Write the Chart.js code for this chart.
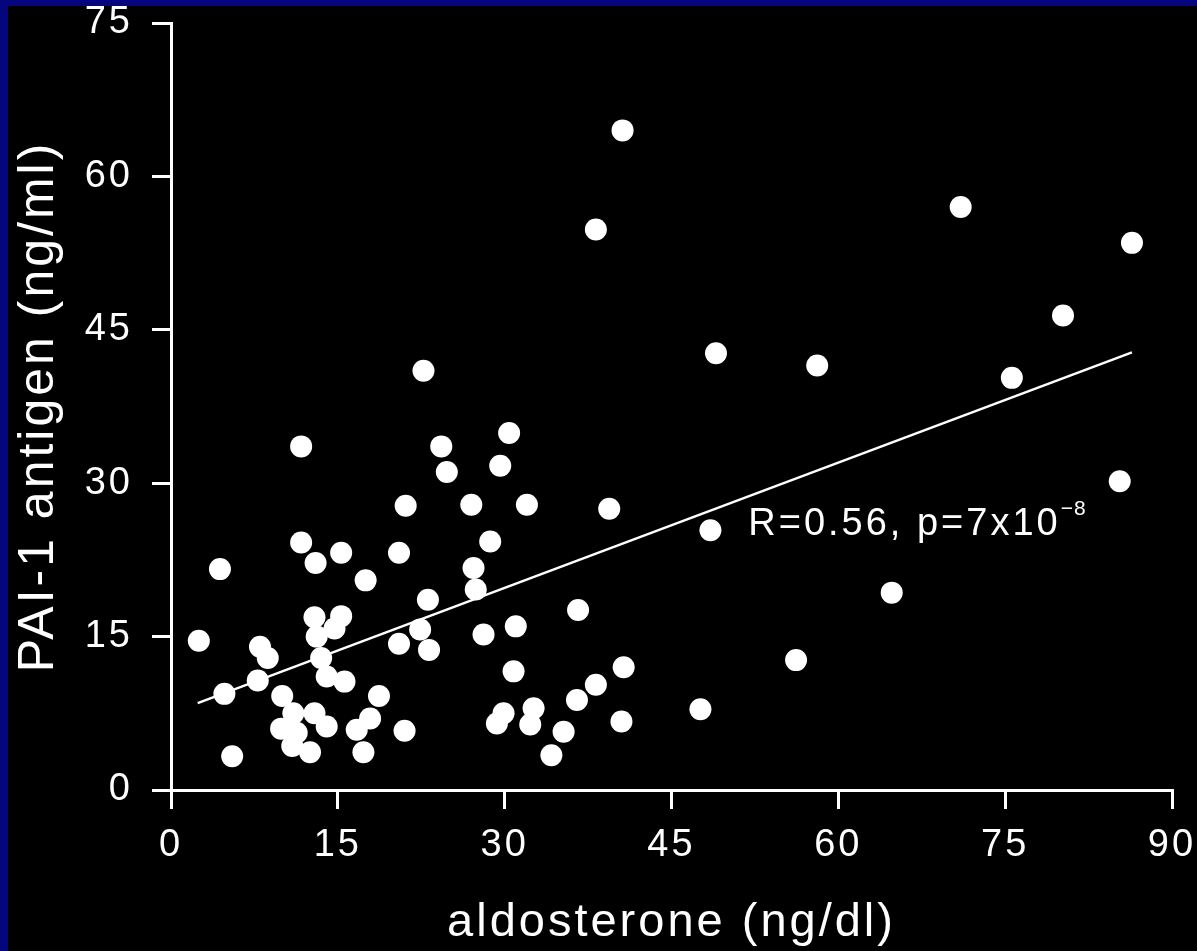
<!DOCTYPE html>
<html>
<head>
<meta charset="utf-8">
<title>PAI-1 antigen vs aldosterone</title>
<script src="https://cdn.jsdelivr.net/npm/chart.js@4.4.1/dist/chart.umd.min.js"></script>
<style>
  html, body { margin: 0; padding: 0; background: #05057e; }
  #wrap { position: absolute; left: 8px; top: 6px; width: 1189px; height: 945px; background: #000; }
</style>
</head>
<body>
<div id="wrap"><canvas id="chart"></canvas></div>
<script>
// aldosterone (ng/dl) vs PAI-1 antigen (ng/ml), one entry per subject
const aldosterone = [2.5, 4.4, 4.8, 5.5, 7.8, 8.0, 8.7, 10.0, 11.7, 11.7, 13.0, 15.3, 17.5, 12.9, 13.1, 15.3,
  14.7, 13.5, 14.0, 15.6, 11.0, 12.9, 14.0, 9.9, 11.3, 10.9, 12.5, 16.7, 17.9, 18.7, 17.3, 20.5, 21.1, 23.1,
  22.4, 20.5, 23.2, 21.0, 24.3, 24.8, 22.7, 30.4, 29.6, 27.0, 32.0, 28.7, 27.2, 27.4, 28.1, 31.0, 30.8, 29.9,
  29.3, 32.6, 32.3, 35.3, 34.2, 36.6, 38.2, 36.5, 40.7, 40.5, 39.4, 38.2, 40.6, 49.0, 48.5, 47.6, 56.2, 58.1,
  64.8, 71.0, 75.6, 80.2, 85.3, 86.4];
const pai1 = [14.6, 21.6, 9.4, 3.3, 10.7, 14.0, 12.9, 9.2, 33.6, 24.2, 22.2, 23.2, 20.5, 16.9, 15.0, 17.0,
  15.8, 12.9, 11.1, 10.6, 7.5, 7.5, 6.2, 6.0, 5.6, 4.3, 3.7, 5.9, 7.0, 9.2, 3.7, 23.2, 27.8, 18.6,
  15.7, 14.3, 13.7, 5.8, 33.6, 31.1, 41.0, 34.9, 31.7, 27.9, 27.9, 24.3, 21.7, 19.6, 15.2, 16.0, 11.6, 7.5,
  6.5, 8.0, 6.4, 5.7, 3.4, 17.6, 10.3, 8.8, 12.0, 6.7, 27.5, 54.8, 64.5, 42.7, 25.4, 7.9, 12.7, 41.5,
  19.3, 57.0, 40.3, 46.4, 30.2, 53.5];

// regression line end points
const fitX = [2.4, 86.4];
const fitY = [8.5, 42.8];

const xTicks = [0, 15, 30, 45, 60, 75, 90];
const yTicks = [0, 15, 30, 45, 60, 75];

const noteText = 'R=0.56, p=7x10';
const noteExp = '\u22128';
const noteAt = [51.9, 24.9]; // data coords of the text baseline start

const FONT = '"Liberation Sans", Arial, Helvetica, sans-serif';

// the original lettering is a little spaced out
const spacing = {
  id: 'spacing',
  beforeDraw(chart) { chart.ctx.letterSpacing = '3px'; }
};

const note = {
  id: 'note',
  afterDatasetsDraw(chart) {
    const { ctx, scales: { x, y } } = chart;
    const px = x.getPixelForValue(noteAt[0]);
    const py = y.getPixelForValue(noteAt[1]);
    ctx.save();
    ctx.fillStyle = '#fff';
    ctx.letterSpacing = '3px';
    ctx.textAlign = 'left';
    ctx.textBaseline = 'alphabetic';
    ctx.font = '38px ' + FONT;
    ctx.fillText(noteText, px, py);
    const w = ctx.measureText(noteText).width;
    ctx.font = '21px ' + FONT;
    ctx.letterSpacing = '1px';
    ctx.fillText(noteExp, px + w, py - 20);
    ctx.restore();
  }
};

const axisGrid = { display: true, drawOnChartArea: false, drawTicks: true, tickLength: 19, color: '#fff', lineWidth: 3 };
const axisBorder = { display: true, color: '#fff', width: 3 };

new Chart(document.getElementById('chart'), {
  type: 'scatter',
  data: {
    datasets: [
      {
        data: aldosterone.map((v, i) => ({ x: v, y: pai1[i] })),
        pointRadius: 11,
        backgroundColor: '#fff',
        borderWidth: 0
      },
      {
        data: fitX.map((v, i) => ({ x: v, y: fitY[i] })),
        showLine: true,
        borderColor: '#fff',
        borderWidth: 2.5,
        pointRadius: 0,
        fill: false
      }
    ]
  },
  options: {
    responsive: true,
    maintainAspectRatio: false,
    animation: false,
    events: [],
    layout: { padding: { top: 17, right: 25, left: 0, bottom: 0 } },
    plugins: { legend: { display: false }, tooltip: { enabled: false } },
    scales: {
      x: {
        type: 'linear', min: 0, max: 90,
        afterBuildTicks: s => { s.ticks = xTicks.map(v => ({ value: v })); },
        afterFit: s => { s.height = 161; s.paddingLeft = 0; s.paddingRight = 0; },
        ticks: { color: '#fff', font: { size: 38, family: FONT }, padding: 14, maxRotation: 0, autoSkip: false },
        grid: axisGrid,
        border: axisBorder,
        title: { display: true, text: 'aldosterone (ng/dl)', color: '#fff', font: { size: 47, family: FONT }, padding: 0 }
      },
      y: {
        type: 'linear', min: 0, max: 75,
        afterBuildTicks: s => { s.ticks = yTicks.map(v => ({ value: v })); },
        afterFit: s => { s.width = 163; s.paddingTop = 0; s.paddingBottom = 0; },
        ticks: { color: '#fff', font: { size: 38, family: FONT }, padding: 19, autoSkip: false },
        grid: axisGrid,
        border: axisBorder,
        title: { display: true, text: 'PAI-1 antigen (ng/ml)', color: '#fff', font: { size: 50, family: FONT }, padding: { top: 1, bottom: 0 } }
      }
    }
  },
  plugins: [spacing, note]
});
</script>
</body>
</html>
